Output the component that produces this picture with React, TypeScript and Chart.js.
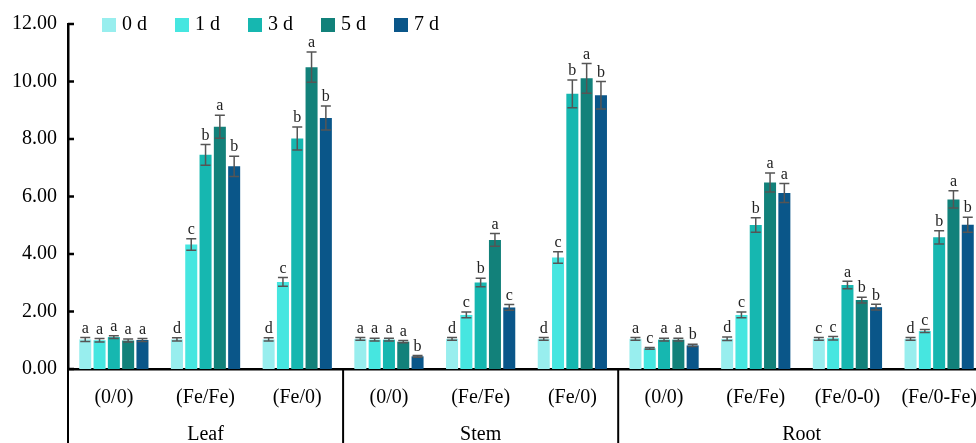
import React, { useEffect, useRef } from "react";
import { Chart, registerables } from "chart.js";

Chart.register(...registerables);

const categories = ["(0/0)", "(Fe/Fe)", "(Fe/0)", "(0/0)", "(Fe/Fe)", "(Fe/0)", "(0/0)", "(Fe/Fe)", "(Fe/0-0)", "(Fe/0-Fe)"];
const groupLabels = ["Leaf", "Stem", "Root"];
const groupSizes = [3, 3, 4];
const seriesNames = ["0 d", "1 d", "3 d", "5 d", "7 d"];
const yTicks = [0, 2, 4, 6, 8, 10, 12];

const d0 = [1.03, 1.03, 1.03, 1.05, 1.05, 1.05, 1.05, 1.05, 1.05, 1.05];
const d1 = [1.0, 4.33, 3.03, 1.02, 1.88, 3.88, 0.72, 1.88, 1.07, 1.32];
const d3 = [1.11, 7.45, 8.02, 1.02, 3.01, 9.57, 1.02, 5.01, 2.92, 4.58];
const d5 = [0.99, 8.43, 10.5, 0.95, 4.49, 10.11, 1.02, 6.49, 2.4, 5.9];
const d7 = [1.01, 7.05, 8.73, 0.44, 2.14, 9.52, 0.82, 6.12, 2.15, 5.02];

const e0 = [0.07, 0.06, 0.06, 0.05, 0.05, 0.05, 0.05, 0.06, 0.05, 0.05];
const e1 = [0.06, 0.2, 0.15, 0.05, 0.1, 0.2, 0.03, 0.1, 0.06, 0.05];
const e3 = [0.05, 0.36, 0.4, 0.05, 0.15, 0.48, 0.05, 0.25, 0.13, 0.23];
const e5 = [0.05, 0.4, 0.53, 0.04, 0.22, 0.52, 0.05, 0.33, 0.1, 0.3];
const e7 = [0.05, 0.35, 0.42, 0.03, 0.1, 0.48, 0.04, 0.33, 0.1, 0.26];

const l0 = ["a", "d", "d", "a", "d", "d", "a", "d", "c", "d"];
const l1 = ["a", "c", "c", "a", "c", "c", "c", "c", "c", "c"];
const l3 = ["a", "b", "b", "a", "b", "b", "a", "b", "a", "b"];
const l5 = ["a", "a", "a", "a", "a", "a", "a", "a", "b", "a"];
const l7 = ["a", "b", "b", "b", "c", "b", "b", "a", "b", "b"];

const values = [d0, d1, d3, d5, d7];
const errors = [e0, e1, e3, e5, e7];
const letters = [l0, l1, l3, l5, l7];
const colors = ["#98EEEE", "#46E6E0", "#16B7B0", "#12817A", "#0A5689"];

const FONT = "'Liberation Serif', serif";

const extrasPlugin = {
  id: "extras",
  afterDatasetsDraw(chart: any) {
    const ctx = chart.ctx;
    const y = chart.scales.y;
    ctx.save();
    chart.data.datasets.forEach((ds: any, di: number) => {
      const meta = chart.getDatasetMeta(di);
      meta.data.forEach((bar: any, i: number) => {
        const v = ds.data[i];
        const e = errors[di][i];
        const x = bar.x;
        const yt = y.getPixelForValue(v + e);
        const yb = y.getPixelForValue(v - e);
        ctx.strokeStyle = "#555555";
        ctx.lineWidth = 1.5;
        ctx.beginPath();
        ctx.moveTo(x, yt);
        ctx.lineTo(x, yb);
        ctx.moveTo(x - 5, yt);
        ctx.lineTo(x + 5, yt);
        ctx.moveTo(x - 5, yb);
        ctx.lineTo(x + 5, yb);
        ctx.stroke();
        ctx.fillStyle = "#222222";
        ctx.font = `16px ${FONT}`;
        ctx.textAlign = "center";
        ctx.textBaseline = "bottom";
        ctx.fillText(letters[di][i], x, yt - 1);
      });
    });
    ctx.restore();
  },
  afterDraw(chart: any) {
    const ctx = chart.ctx;
    const area = chart.chartArea;
    const xs = chart.scales.x;
    const ys = chart.scales.y;
    const H = chart.height;
    ctx.save();
    ctx.strokeStyle = "#000";
    ctx.lineWidth = 2.5;
    yTicks.forEach((t) => {
      const py = ys.getPixelForValue(t);
      ctx.beginPath();
      ctx.moveTo(area.left, py);
      ctx.lineTo(area.left + 6, py);
      ctx.stroke();
    });
    ctx.lineWidth = 2;
    ctx.beginPath();
    ctx.moveTo(area.left, area.bottom);
    ctx.lineTo(area.left, H);
    ctx.stroke();
    let idx = 0;
    ctx.font = `20px ${FONT}`;
    ctx.fillStyle = "#000";
    ctx.textAlign = "center";
    ctx.textBaseline = "middle";
    groupSizes.forEach((n, gi) => {
      const startIdx = idx;
      const endIdx = idx + n - 1;
      const half = (xs.getPixelForValue(1) - xs.getPixelForValue(0)) / 2;
      const left = xs.getPixelForValue(startIdx) - half;
      const right = xs.getPixelForValue(endIdx) + half;
      if (gi > 0) {
        ctx.beginPath();
        ctx.moveTo(left, area.bottom);
        ctx.lineTo(left, H);
        ctx.stroke();
      }
      ctx.fillText(groupLabels[gi], (left + right) / 2, 435);
      idx += n;
    });
    ctx.font = `20px ${FONT}`;
    ctx.textAlign = "left";
    ctx.textBaseline = "middle";
    let lx = 102;
    seriesNames.forEach((name, i) => {
      ctx.fillStyle = colors[i];
      ctx.fillRect(lx, 18, 14, 14);
      ctx.fillStyle = "#000";
      ctx.fillText(name, lx + 20, 25);
      lx += 20 + ctx.measureText(name).width + 28;
    });
    ctx.restore();
  },
};

export default function App() {
  const ref = useRef<HTMLCanvasElement>(null);
  useEffect(() => {
    if (!ref.current) return;
    const chart = new Chart(ref.current, {
      type: "bar",
      data: {
        labels: categories,
        datasets: values.map((vals, i) => ({
          label: seriesNames[i],
          data: vals,
          backgroundColor: colors[i],
          borderWidth: 0,
          categoryPercentage: 0.78,
          barPercentage: 0.84,
        })),
      },
      options: {
        animation: false,
        responsive: false,
        maintainAspectRatio: false,
        layout: { padding: { left: 0, top: 24, right: 15, bottom: 0 } },
        plugins: { legend: { display: false }, tooltip: { enabled: false } },
        scales: {
          x: {
            grid: { display: false },
            border: { display: true, color: "#000", width: 2.5 },
            ticks: { color: "#000", font: { family: FONT, size: 20 }, padding: 9, maxRotation: 0, autoSkip: false },
            afterFit: (s: any) => {
              s.height = 74;
            },
          },
          y: {
            min: 0,
            max: 12,
            grid: { display: false },
            border: { display: true, color: "#000", width: 2.5 },
            ticks: {
              stepSize: 2,
              color: "#000",
              font: { family: FONT, size: 20 },
              padding: 3,
              callback: (v: any) => Number(v).toFixed(2),
            },
            afterFit: (s: any) => {
              s.width = 68;
            },
          },
        },
      },
      plugins: [extrasPlugin],
    });
    return () => chart.destroy();
  }, []);
  return (
    <div style={{ position: "fixed", left: 0, top: 0, width: 976, height: 443, overflow: "hidden", background: "#fff" }}>
      <canvas ref={ref} width={1000} height={443} style={{ width: 1000, height: 443, display: "block" }} />
    </div>
  );
}
